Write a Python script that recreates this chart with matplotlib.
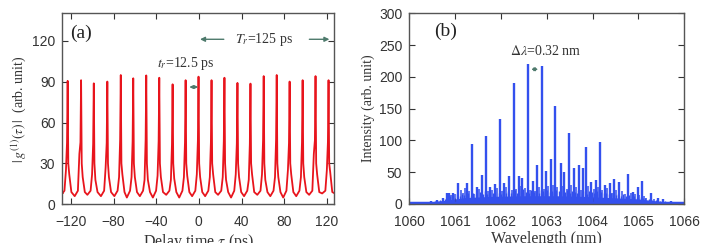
import numpy as np
import matplotlib
matplotlib.use("Agg")
import matplotlib.pyplot as plt

# ---- panel (a): field autocorrelation ----
peak_t = [-123.0, -110.4, -98.5, -85.8, -73.2, -61.5, -49.3, -37.1, -24.6, -12.4, -0.3,
          11.9, 24.0, 36.2, 48.4, 60.8, 73.0, 85.1, 97.3, 109.4, 121.6]
peak_h = [90.5, 91, 88.7, 90, 94.8, 92.4, 94.5, 92.8, 88, 91, 93.6,
          91, 92.8, 89, 88.5, 94, 94.8, 90, 91, 94, 91]
shoulder_l = [25, 37, 22, 27, 20, 20, 18, 21, 18, 20, 22, 20, 20, 22, 18, 22, 20, 25, 20, 37, 25]
shoulder_r = [22, 20, 18, 20, 22, 20, 18, 20, 19, 21, 20, 22, 18, 20, 22, 18, 20, 22, 20, 22, 24]
valley = [7, 6, 7, 6, 6, 5, 6, 5, 7, 5, 6, 6, 7, 5, 6, 7, 6, 5, 6, 7, 8, 8]  # before each peak + end

# ---- panel (b): optical spectrum ----
main_lam = [1060.47, 1060.61, 1060.73, 1060.82, 1060.86, 1060.96, 1061.07, 1061.26, 1061.37,
            1061.47, 1061.58, 1061.68, 1061.77, 1061.88, 1061.98, 1062.07, 1062.18, 1062.28,
            1062.39, 1062.46, 1062.58, 1062.69, 1062.79, 1062.89, 1062.99, 1063.09, 1063.18,
            1063.30, 1063.37, 1063.48, 1063.59, 1063.70, 1063.80, 1063.85, 1063.96, 1064.07,
            1064.16, 1064.26, 1064.38, 1064.47, 1064.58, 1064.77, 1064.89, 1064.98, 1065.07,
            1065.27, 1065.42, 1065.53, 1065.70]
main_h = [5, 6, 10, 17, 18, 18, 33, 33, 94, 27, 45, 107, 27, 31, 134, 33, 44, 191,
          44, 41, 221, 36, 62, 217, 52, 71, 155, 64, 50, 111, 56, 61, 56, 90, 35, 37,
          98, 30, 33, 40, 34, 47, 19, 26, 36, 18, 9, 8, 5]
fill_lam = [1060.92, 1060.99, 1061.12, 1061.17, 1061.22, 1061.31, 1061.42, 1061.51, 1061.72,
            1061.80, 1061.92, 1062.03, 1062.12, 1062.23, 1062.33, 1062.42, 1062.52, 1062.63,
            1062.74, 1062.84, 1062.94, 1063.03, 1063.13, 1063.23, 1063.33, 1063.43, 1063.53,
            1063.63, 1063.74, 1063.90, 1064.02, 1064.11, 1064.21, 1064.32, 1064.42, 1064.52,
            1064.63, 1064.70, 1064.83, 1064.93, 1065.02, 1065.12, 1065.17, 1065.33]
fill_h = [14, 16, 22, 18, 25, 20, 16, 24, 20, 22, 25, 20, 26, 22, 24, 28, 25, 22,
          20, 27, 24, 28, 30, 26, 28, 24, 30, 26, 22, 28, 24, 26, 22, 25, 18, 22,
          20, 16, 18, 15, 14, 12, 10, 8]
# low dense lines forming the floor of the spectrum
low_lam = [1060.55, 1060.66, 1060.78, 1060.89, 1060.95, 1061.03, 1061.10, 1061.15, 1061.20,
           1061.29, 1061.34, 1061.40, 1061.45, 1061.54, 1061.61, 1061.65, 1061.70, 1061.75,
           1061.83, 1061.86, 1061.95, 1062.01, 1062.05, 1062.10, 1062.15, 1062.21, 1062.26,
           1062.31, 1062.36, 1062.44, 1062.49, 1062.55, 1062.61, 1062.66, 1062.72, 1062.77,
           1062.82, 1062.87, 1062.92, 1062.97, 1063.01, 1063.06, 1063.11, 1063.16, 1063.21,
           1063.26, 1063.28, 1063.35, 1063.40, 1063.45, 1063.51, 1063.56, 1063.61, 1063.66,
           1063.68, 1063.77, 1063.83, 1063.88, 1063.93, 1063.99, 1064.04, 1064.09, 1064.14,
           1064.19, 1064.24, 1064.29, 1064.35, 1064.40, 1064.45, 1064.50, 1064.55, 1064.61,
           1064.66, 1064.73, 1064.80, 1064.86, 1064.91, 1064.96, 1065.05, 1065.10, 1065.15,
           1065.22, 1065.30, 1065.38, 1065.47, 1065.58, 1065.65]
low_h = [4, 6, 8, 12, 14, 15, 12, 16, 14, 18, 13, 17, 15, 19, 16, 20, 15, 18,
         17, 21, 18, 16, 22, 18, 20, 17, 19, 22, 18, 20, 23, 19, 17, 22, 19, 21,
         18, 22, 20, 17, 22, 19, 21, 18, 22, 20, 17, 21, 19, 22, 18, 21, 19, 17,
         22, 18, 20, 16, 21, 19, 18, 20, 16, 19, 17, 18, 15, 17, 16, 14, 16, 13,
         15, 12, 14, 11, 12, 10, 11, 9, 10, 8, 7, 6, 5, 4, 3]
floor_lam = [1060, 1060.4, 1060.8, 1061.2, 1061.8, 1062.5, 1063.2, 1063.8, 1064.4, 1065.0, 1065.5, 1066]
floor_h = [2, 3, 6, 10, 12, 13, 13, 12, 10, 8, 4, 2]

serif = ["Liberation Serif", "DejaVu Serif"]
sans = ["Liberation Sans", "DejaVu Sans"]
plt.rcParams["font.family"] = sans
plt.rcParams["mathtext.fontset"] = "stix"

fig = plt.figure(figsize=(7.01, 2.43), dpi=100)
ax1 = fig.add_axes([0.0889, 0.159, 0.388, 0.786])
ax2 = fig.add_axes([0.5839, 0.1605, 0.3923, 0.7845])

# build the autocorrelation trace from the read peak values
tt = [-128.0]
yy = [valley[0] + 1]
for i, t in enumerate(peak_t):
    tt += [t - 6, t - 3, t - 1.6, t - 0.6, t, t + 0.6, t + 1.5, t + 3.5]
    yy += [valley[i], 10, shoulder_l[i], 0.5 * peak_h[i], peak_h[i], 30, shoulder_r[i], 9]
tt.append(127.5)
yy.append(valley[-1])
ax1.plot(tt, yy, color="#e8141c", lw=1.3)

ax1.set_xlim(-128, 127)
ax1.set_ylim(0, 140)
ax1.set_xticks([-120, -80, -40, 0, 40, 80, 120])
ax1.set_yticks([0, 30, 60, 90, 120])
ax1.set_ylabel(r"$|\,g^{(1)}(\tau)\,|$  (arb. unit)", family=serif, fontsize=10, color="#333333", labelpad=3)
ax1.set_xlabel(r"Delay time $\tau$ (ps)", family=serif, fontsize=11.5, color="#333333", labelpad=1.5)
ax1.text(-121, 132, "(a)", family=serif, fontsize=14, va="top", color="#222222")
ax1.annotate("", xy=(-1.5, 121), xytext=(26, 121),
             arrowprops=dict(arrowstyle="-|>", color="#4e7a6c", lw=1.0, mutation_scale=7))
ax1.annotate("", xy=(125, 121), xytext=(101, 121),
             arrowprops=dict(arrowstyle="-|>", color="#4e7a6c", lw=1.0, mutation_scale=7))
ax1.text(61, 121, r"$T_r$=125 ps", family=serif, fontsize=10, ha="center", va="center", color="#333333")
ax1.text(-12, 103, r"$t_r$=12.5 ps", family=serif, fontsize=10, ha="center", va="center", color="#333333")
ax1.annotate("", xy=(-11.5, 86), xytext=(2, 86),
             arrowprops=dict(arrowstyle="<|-|>", color="#4e7a6c", lw=0.9, mutation_scale=5))

# spectrum
blue = "#3350ee"
ax2.fill_between(floor_lam, 0, floor_h, color=blue, lw=0)
ax2.vlines(low_lam, 0, low_h, color=blue, lw=1.0)
ax2.vlines(fill_lam, 0, fill_h, color=blue, lw=1.1)
ax2.vlines(main_lam, 0, main_h, color=blue, lw=1.7)
ax2.plot([1060, 1066], [1.5, 1.5], color=blue, lw=2.5)
ax2.set_xlim(1060, 1066)
ax2.set_ylim(0, 300)
ax2.set_xticks(range(1060, 1067))
ax2.set_yticks(range(0, 301, 50))
ax2.set_ylabel("Intensity (arb. unit)", family=serif, fontsize=10, color="#333333", labelpad=3)
ax2.set_xlabel("Wavelength (nm)", family=serif, fontsize=11.5, color="#333333", labelpad=1.5)
ax2.text(1060.55, 286, "(b)", family=serif, fontsize=14, va="top", color="#222222")
ax2.text(1062.98, 240, r"$\Delta\lambda$=0.32 nm", family=serif, fontsize=10, ha="center", va="center", color="#333333")
ax2.annotate("", xy=(1062.6, 212), xytext=(1062.87, 212),
             arrowprops=dict(arrowstyle="<|-|>", color="#4e7a6c", lw=0.9, mutation_scale=5))

for ax in (ax1, ax2):
    ax.tick_params(direction="in", top=True, right=True, length=4, width=0.8,
                   labelsize=10, colors="#333333")
    ax.tick_params(axis="x", pad=8)
    ax.tick_params(axis="y", pad=5)
    for s in ax.spines.values():
        s.set_color("#555555")
        s.set_linewidth(1.0)

fig.savefig("out.png", dpi=100)
